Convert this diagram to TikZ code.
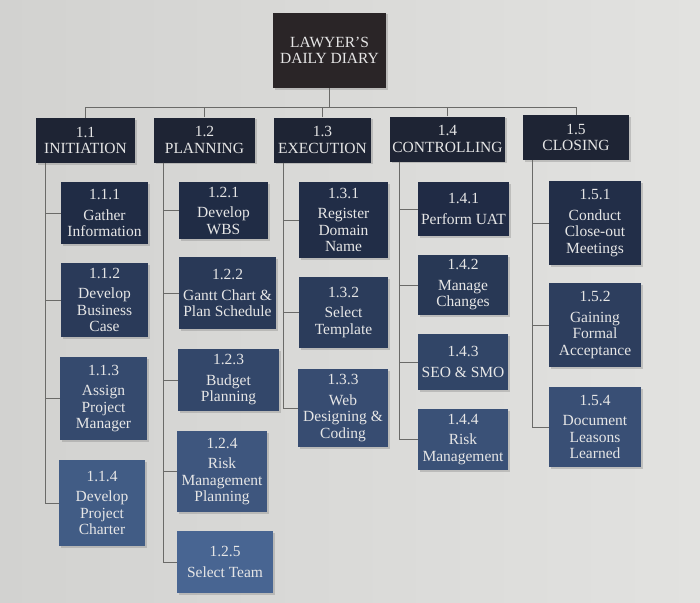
\documentclass[tikz,border=0pt]{standalone}
\usepackage{fontspec}
\setmainfont{Liberation Serif}
\usetikzlibrary{shadows}
\definecolor{bgL}{HTML}{D2D2D0}
\definecolor{bgM}{HTML}{ECECEA}
\definecolor{bgR}{HTML}{E2E2E0}
\definecolor{rootc}{HTML}{2A2527}
\definecolor{hdr}{HTML}{1E2434}
\definecolor{db}{HTML}{1F2A43}
\definecolor{lb}{HTML}{4A6896}
\definecolor{txt}{HTML}{E6E6E6}
\definecolor{wirec}{HTML}{6A6A68}
\tikzset{
  boxbase/.style={draw=none, text=txt, align=center, inner sep=0pt,
    font=\fontsize{15.5}{16.5}\selectfont,
    drop shadow={opacity=0.35, shadow xshift=1.5pt, shadow yshift=-1.5pt}},
  rootbox/.style={boxbase, fill=rootc},
  hbox/.style={boxbase, fill=hdr},
  cbox/.style={boxbase, fill=lb!#1!db},
  wire/.style={draw=wirec, line width=1pt},
}
\begin{document}
\begin{tikzpicture}[x=1pt, y=-1pt]
\shade[left color=bgL, middle color=bgM, right color=bgR] (0,0) rectangle (700,602);
\useasboundingbox (0,0) rectangle (700,602);
\coordinate (bus) at (0,107);
% root
\node[rootbox, minimum width=113pt, minimum height=75pt] (root) at (329.5,50.5) {LAWYER'S\\DAILY DIARY};
% level 1
\node[hbox, minimum width=99pt, minimum height=45pt] (l11) at (85.5,140.5) {1.1\\INITIATION};
\node[hbox, minimum width=101pt, minimum height=45pt] (l12) at (204.5,140) {1.2\\PLANNING};
\node[hbox, minimum width=97pt, minimum height=45pt] (l13) at (322.5,140) {1.3\\EXECUTION};
\node[hbox, minimum width=115pt, minimum height=45pt] (l14) at (447.5,139) {1.4\\CONTROLLING};
\node[hbox, minimum width=106pt, minimum height=45pt] (l15) at (576,137.5) {1.5\\CLOSING};
% 1.1 children
\node[cbox=3, minimum width=87pt, minimum height=62pt] (c111) at (104.5,213) {1.1.1\\[4pt]Gather\\Information};
\node[cbox=26, minimum width=87pt, minimum height=74pt] (c112) at (104.5,300) {1.1.2\\[4pt]Develop\\Business\\Case};
\node[cbox=52, minimum width=87pt, minimum height=83pt] (c113) at (103.5,398.5) {1.1.3\\[4pt]Assign\\Project\\Manager};
\node[cbox=80, minimum width=86pt, minimum height=86pt] (c114) at (102,503) {1.1.4\\[4pt]Develop\\Project\\Charter};
% 1.2 children
\node[cbox=3, minimum width=89pt, minimum height=57pt] (c121) at (223.5,210.5) {1.2.1\\[4pt]Develop\\WBS};
\node[cbox=24, minimum width=97pt, minimum height=72pt] (c122) at (227.5,293) {1.2.2\\[4pt]Gantt Chart \&\\Plan Schedule};
\node[cbox=47, minimum width=101pt, minimum height=62pt] (c123) at (228.5,380) {1.2.3\\[4pt]Budget\\Planning};
\node[cbox=71, minimum width=90pt, minimum height=81pt] (c124) at (222,471.5) {1.2.4\\[4pt]Risk\\Management\\Planning};
\node[cbox=95, minimum width=96pt, minimum height=62pt] (c125) at (225,562) {1.2.5\\[4pt]Select Team};
% 1.3 children
\node[cbox=5, minimum width=89pt, minimum height=76pt] (c131) at (343.5,220) {1.3.1\\[4pt]Register\\Domain\\Name};
\node[cbox=29, minimum width=89pt, minimum height=71pt] (c132) at (343.5,312.5) {1.3.2\\[4pt]Select\\Template};
\node[cbox=55, minimum width=90pt, minimum height=78pt] (c133) at (343,408) {1.3.3\\[4pt]Web\\Designing \&\\Coding};
% 1.4 children
\node[cbox=2, minimum width=91pt, minimum height=54pt] (c141) at (463.5,209) {1.4.1\\[4pt]Perform UAT};
\node[cbox=22, minimum width=90pt, minimum height=60pt] (c142) at (463,285) {1.4.2\\[4pt]Manage\\Changes};
\node[cbox=43, minimum width=90pt, minimum height=56pt] (c143) at (463,362) {1.4.3\\[4pt]SEO \& SMO};
\node[cbox=63, minimum width=90pt, minimum height=61pt] (c144) at (463,439.5) {1.4.4\\[4pt]Risk\\Management};
% 1.5 children
\node[cbox=6, minimum width=92pt, minimum height=84pt] (c151) at (595,223) {1.5.1\\[4pt]Conduct\\Close-out\\Meetings};
\node[cbox=33, minimum width=92pt, minimum height=84pt] (c152) at (595,325) {1.5.2\\[4pt]Gaining\\Formal\\Acceptance};
\node[cbox=60, minimum width=92pt, minimum height=80pt] (c154) at (595,427) {1.5.4\\[4pt]Document\\Leasons\\Learned};
% connectors root -> level 1
\draw[wire, line width=1.8pt] (root.south) -- (root.south |- bus);
\draw[wire] (l11.north) -- (l11.north |- bus) -| (l15.north);
\draw[wire] (l12.north) -- (l12.north |- bus);
\draw[wire] (l13.north) -- (l13.north |- bus);
\draw[wire] (l14.north) -- (l14.north |- bus);
% connectors level 1 -> children
\foreach \p/\c in {l11/c111,l11/c112,l11/c113,l11/c114,
                   l12/c121,l12/c122,l12/c123,l12/c124,l12/c125,
                   l13/c131,l13/c132,l13/c133,
                   l14/c141,l14/c142,l14/c143,l14/c144,
                   l15/c151,l15/c152,l15/c154}
  \draw[wire] ([xshift=10pt]\p.south west) |- (\c.west);
\end{tikzpicture}
\end{document}
